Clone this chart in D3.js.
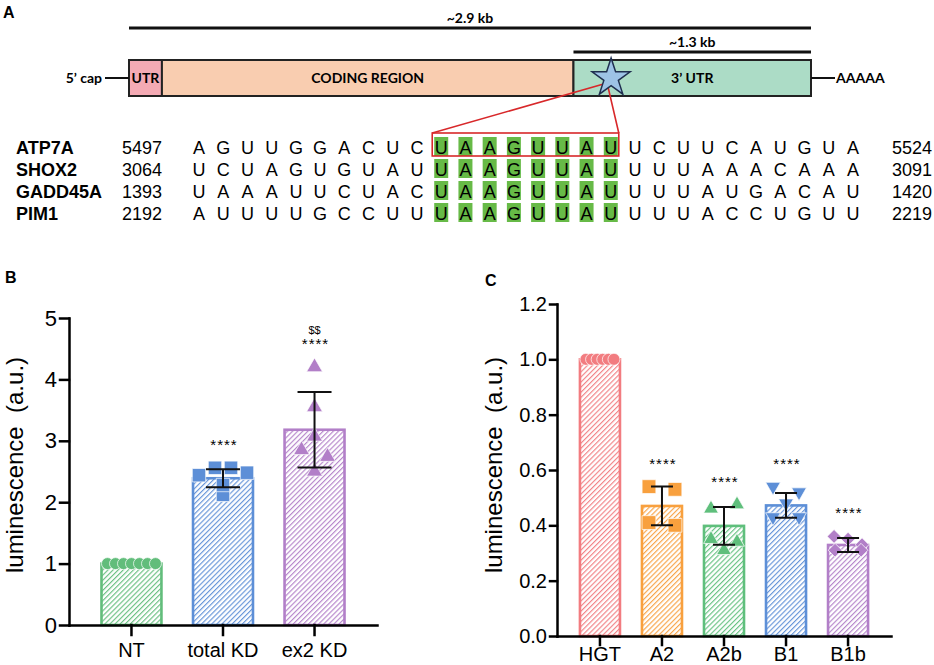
<!DOCTYPE html>
<html>
<head>
<meta charset="utf-8">
<script src="https://cdn.jsdelivr.net/npm/d3@7"></script>
<style>
body { margin: 0; background: #fff; }
svg { display: block; font-family: 'Liberation Sans', Arial, sans-serif; }
</style>
</head>
<body>
<div id="figure"></div>
<script>

// panel A: mRNA schematic
const regionNames = ['UTR', 'CODING REGION', '3\u2019 UTR']
const regionLen = [0.14, 1.75, 1.01]
const regionFill = ['#f4aab4', '#f9cdb0', '#acdcc6']
const spanLabels = ['~2.9 kb', '~1.3 kb']
const siteKb = 2.05

// panel A: sequence alignment
const genes = ['ATP7A', 'SHOX2', 'GADD45A', 'PIM1']
const seqStart = [5497, 3064, 1393, 2192]
const seqEnd = [5524, 3091, 1420, 2219]
const sequences = [
	'AGUUGGACUCUAAGUUAUUCUUCAUGUA',
	'UCUAGUGUAUUAAGUUAUUUUAAACAAA',
	'UAAAUUCUACUAAGUUAUUUUAUGACAU',
	'AUUUUGCCUUUAAGUUAUUUUACCUGUU'
]
const motifStart = 10
const motifLen = 8

// panel B
const groupsB = ['NT', 'total KD', 'ex2 KD']
const meanB = [1.0, 2.39, 3.18]
const sdB = [0, 0.145, 0.615]
const pointsB = [
	[1, 1, 1, 1, 1, 1, 1],
	[2.44, 2.56, 2.12, 2.56, 2.28, 2.48],
	[4.2, 3.55, 3.07, 2.85, 2.74, 2.5]
]
const starsB = ['', '****', '****']
const dollarsB = ['', '', '$$']
const ticksB = [0, 1, 2, 3, 4, 5]

// panel C
const groupsC = ['HGT', 'A2', 'A2b', 'B1', 'B1b']
const meanC = [1.0, 0.47, 0.398, 0.472, 0.329]
const sdC = [0, 0.07, 0.068, 0.045, 0.025]
const pointsC = [
	[1, 1, 1, 1, 1, 1],
	[0.54, 0.53, 0.41, 0.40],
	[0.46, 0.475, 0.35, 0.34, 0.31],
	[0.54, 0.52, 0.48, 0.43, 0.43],
	[0.36, 0.35, 0.33, 0.31, 0.31]
]
const starsC = ['', '****', '****', '****', '****']
const ticksC = [0, 0.2, 0.4, 0.6, 0.8, 1.0, 1.2]

const yTitle = 'luminescence  (a.u.)'

let svg = d3.select('#figure').append('svg')
.attr('width', 934)
.attr('height', 665)

let defs = svg.append('defs')

svg.append('rect').attr('width', 934).attr('height', 665).attr('fill', '#fff')

let panelLabel = (t, x, y) => svg.append('text')
.attr('x', x).attr('y', y)
.attr('font-size', 16).attr('font-weight', 'bold')
.text(t)

panelLabel('A', 3, 18)
panelLabel('B', 5, 283)
panelLabel('C', 485, 286)

// ---- mRNA
let kb = d3.scaleLinear().domain([0, d3.sum(regionLen)]).range([129, 811])
let edges = [0, ...d3.cumsum(regionLen)]
let boxTop = 60, boxH = 36, midY = boxTop + boxH / 2

let a = svg.append('g').attr('font-family', 'Lato, "Open Sans", sans-serif').attr('font-weight', 'bold')

a.append('line')
.attr('x1', kb(0)).attr('x2', kb(edges[3]))
.attr('y1', 28).attr('y2', 28)
.attr('stroke', '#111').attr('stroke-width', 3)

a.append('text')
.attr('x', kb(edges[3] / 2) ).attr('y', 23)
.attr('text-anchor', 'middle').attr('font-size', 14)
.text(spanLabels[0])

a.append('line')
.attr('x1', kb(edges[2])).attr('x2', kb(edges[3]))
.attr('y1', 52).attr('y2', 52)
.attr('stroke', '#111').attr('stroke-width', 3)

a.append('text')
.attr('x', kb((edges[2] + edges[3]) / 2)).attr('y', 47)
.attr('text-anchor', 'middle').attr('font-size', 14)
.text(spanLabels[1])

a.selectAll('rect.region')
.data(regionNames)
.enter()
.append('rect')
.attr('class', 'region')
.attr('x', (d, i) => kb(edges[i]))
.attr('width', (d, i) => kb(edges[i + 1]) - kb(edges[i]))
.attr('y', boxTop).attr('height', boxH)
.attr('fill', (d, i) => regionFill[i])
.attr('stroke', '#222').attr('stroke-width', 2)

a.selectAll('text.region')
.data(regionNames)
.enter()
.append('text')
.attr('class', 'region')
.attr('x', (d, i) => (kb(edges[i]) + kb(edges[i + 1])) / 2)
.attr('y', midY + 5)
.attr('text-anchor', 'middle')
.attr('font-size', 14)
.text(d => d)

a.append('line')
.attr('x1', 105).attr('x2', kb(0))
.attr('y1', midY).attr('y2', midY)
.attr('stroke', '#111').attr('stroke-width', 2)

a.append('text')
.attr('x', 102).attr('y', midY + 5)
.attr('text-anchor', 'end').attr('font-size', 14)
.text('5\u2019 cap')

a.append('line')
.attr('x1', kb(edges[3])).attr('x2', kb(edges[3]) + 24)
.attr('y1', midY).attr('y2', midY)
.attr('stroke', '#111').attr('stroke-width', 2)

a.append('text')
.attr('x', kb(edges[3]) + 25).attr('y', midY + 5)
.attr('font-size', 14)
.text('AAAAA')

// ---- alignment
let col = d3.scaleLinear().domain([0, 27]).range([199, 853])
let row = d3.scaleLinear().domain([0, 3]).range([154, 220])

let al = svg.append('g').attr('font-size', 18)

sequences.forEach((s, r) => {
	let base = row(r)
	s.split('').forEach((ch, j) => {
		if (j >= motifStart && j < motifStart + motifLen) {
			al.append('rect')
			.attr('x', col(j) - 7).attr('width', 14)
			.attr('y', base - 17).attr('height', 19)
			.attr('fill', '#67ba47')
		}
		al.append('text')
		.attr('x', col(j)).attr('y', base)
		.attr('text-anchor', 'middle')
		.text(ch)
	})
	al.append('text').attr('x', 16).attr('y', base).attr('font-weight', 'bold').text(genes[r])
	al.append('text').attr('x', 122).attr('y', base).text(seqStart[r])
	al.append('text').attr('x', 892).attr('y', base).text(seqEnd[r])
})

let redL = col(motifStart) - 9
let redR = col(motifStart + motifLen - 1) + 8
let starX = kb(siteKb), starY = midY

al.append('rect')
.attr('x', redL).attr('width', redR - redL)
.attr('y', row(0) - 21).attr('height', 23)
.attr('fill', 'none').attr('stroke', '#d8282a').attr('stroke-width', 1.6)

al.append('path')
.attr('d', `M${redL},${row(0) - 21}L${starX - 4},${starY + 5}L${redR},${row(0) - 21}`)
.attr('fill', 'none').attr('stroke', '#d8282a').attr('stroke-width', 1.6)

svg.append('path')
.attr('d', d3.symbol().type(d3.symbolStar).size(449)())
.attr('transform', `translate(${starX},${starY})`)
.attr('fill', '#9dc3e6')
.attr('stroke', '#1f2f4f').attr('stroke-width', 1.5)

// ---- bar panels
const symbolTypes = {circle: d3.symbolCircle, square: d3.symbolSquare, triangle: d3.symbolTriangle, triangleDown: d3.symbolTriangle, diamond: d3.symbolSquare}
const symbolTurn = {triangleDown: 180, diamond: 45}

function spread(values, y, maxHalf, step, thr) {
	let rows = []
	values.forEach(v => {
		let py = y(v)
		let r = rows.find(r => Math.abs(r.y0 - py) < thr)
		if (r) r.items.push(v)
		else rows.push({y0: py, items: [v]})
	})
	let out = []
	rows.forEach(r => {
		let n = r.items.length
		let gap = n > 1 ? Math.min(step, 2 * maxHalf / (n - 1)) : 0
		r.items.forEach((v, i) => out.push({v: v, dx: (i - (n - 1) / 2) * gap}))
	})
	return out
}

function barPanel(cfg) {
	let x = d3.scaleBand().domain(cfg.groups).range(cfg.xRange).paddingInner(cfg.padIn).paddingOuter(cfg.padOut)
	let y = d3.scaleLinear().domain(cfg.yDomain).range(cfg.yRange)
	let g = svg.append('g')

	cfg.colors.forEach((c, i) => {
		let p = defs.append('pattern')
		.attr('id', cfg.id + i)
		.attr('patternUnits', 'userSpaceOnUse')
		.attr('width', 3.6).attr('height', 3.6)
		.attr('patternTransform', 'rotate(45)')
		p.append('rect').attr('width', 3.6).attr('height', 3.6).attr('fill', '#fff')
		p.append('line').attr('x1', 0.6).attr('x2', 0.6).attr('y1', 0).attr('y2', 3.6)
		.attr('stroke', c).attr('stroke-width', 1.1)
	})

	g.selectAll('rect.bar')
	.data(cfg.groups)
	.enter()
	.append('rect')
	.attr('class', 'bar')
	.attr('x', d => x(d))
	.attr('width', x.bandwidth())
	.attr('y', (d, i) => y(cfg.mean[i]))
	.attr('height', (d, i) => y(0) - y(cfg.mean[i]))
	.attr('fill', (d, i) => `url(#${cfg.id}${i})`)
	.attr('stroke', (d, i) => cfg.colors[i])
	.attr('stroke-width', 2.6)

	cfg.groups.forEach((grp, i) => {
		let cx = x(grp) + x.bandwidth() / 2
		let sym = cfg.symbols[i]
		let path = d3.symbol().type(symbolTypes[sym]).size(cfg.sizes[i])()
		spread(cfg.points[i], y, cfg.maxHalf, cfg.step, 9).forEach(p => {
			g.append('path')
			.attr('d', path)
			.attr('transform', `translate(${cx + p.dx},${y(p.v)}) rotate(${symbolTurn[sym] || 0})`)
			.attr('fill', cfg.colors[i])
			.attr('stroke', '#fff').attr('stroke-width', 0.7)
		})

		let sd = cfg.sd[i]
		if (sd > 0) {
			let m = cfg.mean[i]
			let w = cfg.cap / 2
			g.append('path')
			.attr('d', `M${cx},${y(m - sd)}V${y(m + sd)}M${cx - w},${y(m + sd)}H${cx + w}M${cx - w},${y(m - sd)}H${cx + w}`)
			.attr('fill', 'none').attr('stroke', '#111').attr('stroke-width', 2)
		}

		let top = Math.max(d3.max(cfg.points[i]), cfg.mean[i] + sd)
		let sy = y(top) - 18
		if (cfg.stars[i]) {
			g.append('text')
			.attr('x', cx + 1).attr('y', sy)
			.attr('text-anchor', 'middle')
			.attr('font-size', 15).attr('letter-spacing', 1)
			.text(cfg.stars[i])
		}
		if (cfg.dollars && cfg.dollars[i]) {
			g.append('text')
			.attr('x', cx).attr('y', sy - 15)
			.attr('text-anchor', 'middle')
			.attr('font-size', 11)
			.text(cfg.dollars[i])
		}
	})

	let yAxis = g.append('g')
	.attr('transform', `translate(${cfg.xRange[0]},0)`)
	.call(d3.axisLeft(y).tickValues(cfg.ticks).tickFormat(cfg.fmt).tickSize(cfg.yTick).tickSizeOuter(0).tickPadding(3))

	let xAxis = g.append('g')
	.attr('transform', `translate(0,${y(0)})`)
	.call(d3.axisBottom(x).tickSize(cfg.xTick).tickSizeOuter(0).tickPadding(cfg.xPad))

	yAxis.selectAll('text').attr('font-size', cfg.yFont).attr('fill', '#000')
	xAxis.selectAll('text').attr('font-size', cfg.xFont).attr('fill', '#000')
	g.selectAll('.domain, .tick line').attr('stroke', '#000').attr('stroke-width', 2.5).attr('stroke-linecap', 'square')
	g.selectAll('.tick text').attr('font-family', '"Liberation Sans", Arial, sans-serif')

	g.append('text')
	.attr('transform', `translate(${cfg.titleX},${cfg.titleY}) rotate(-90)`)
	.attr('text-anchor', 'middle')
	.attr('font-size', 24)
	.style('white-space', 'pre')
	.text(yTitle)
}

barPanel({
	id: 'hb',
	groups: groupsB, mean: meanB, sd: sdB, points: pointsB,
	stars: starsB, dollars: dollarsB, ticks: ticksB, fmt: d3.format('d'),
	colors: ['#62bd7b', '#5d8fd7', '#b27fc8'],
	symbols: ['circle', 'square', 'triangle'],
	sizes: [113, 180, 110],
	xRange: [69, 377], padIn: 0.345, padOut: 0.355,
	yDomain: [0, 5], yRange: [625, 318],
	maxHalf: 24, step: 26, cap: 34,
	yTick: 9, xTick: 10, xPad: 8, yFont: 22, xFont: 20,
	titleX: 23, titleY: 465
})

barPanel({
	id: 'hc',
	groups: groupsC, mean: meanC, sd: sdC, points: pointsC,
	stars: starsC, ticks: ticksC, fmt: d3.format('.1f'),
	colors: ['#f27c80', '#f8a03e', '#5fbf7c', '#5d8fd7', '#b27fc8'],
	symbols: ['circle', 'square', 'triangle', 'triangleDown', 'diamond'],
	sizes: [113, 190, 95, 95, 95],
	xRange: [557, 891], padIn: 0.355, padOut: 0.37,
	yDomain: [0, 1.2], yRange: [636, 304],
	maxHalf: 14, step: 26, cap: 22,
	yTick: 7, xTick: 9, xPad: 2, yFont: 20, xFont: 20,
	titleX: 502, titleY: 465
})

</script>
</body>
</html>
